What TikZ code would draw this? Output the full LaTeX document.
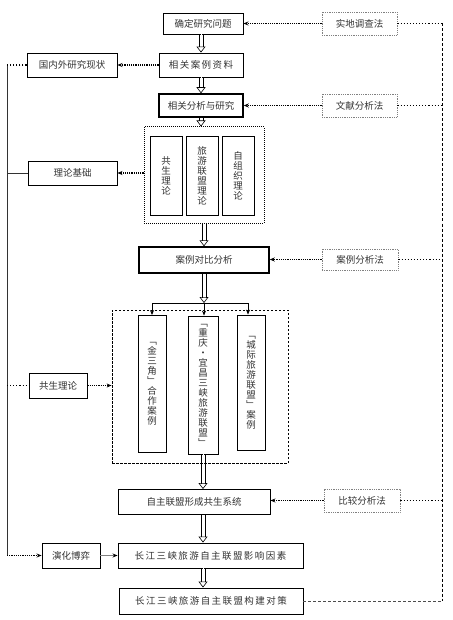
\documentclass[tikz,border=0pt]{standalone}
\usepackage{fontspec}
\setmainfont{Noto Sans CJK SC}
\newfontfamily\widecjk[LetterSpace=15]{Noto Sans CJK SC}
\usetikzlibrary{arrows.meta}

\tikzset{
  box/.style={draw, line width=0.9pt, inner sep=0pt},
  heavybox/.style={box, line width=1.5pt},
  method/.style={draw=gray, densely dotted, line width=0.8pt, inner sep=0pt},
  column/.style={box, line width=0.8pt, align=center},
  shaft/.style={line width=0.6pt, shorten >=5.5pt},
  shafttip/.style={white, line width=0.5pt, -{Triangle[open, color=black, line width=0.6pt, length=6pt, width=9pt]}},
  toward/.style={densely dotted, line width=1.2pt, -{Stealth[length=5pt, width=4pt]}},
  dotlink/.style={dotted, line width=1.1pt},
  rightrail/.style={dash pattern=on 3pt off 2pt, line width=0.6pt},
  leftrail/.style={line width=0.7pt, black!80}
}
\newcommand\hollowto[2]{%
  \draw[shaft, transform canvas={xshift=-1.9pt}] #1 -- #2;
  \draw[shaft, transform canvas={xshift=1.9pt}] #1 -- #2;
  \draw[shafttip] #1 -- #2;}

\begin{document}
\begin{tikzpicture}[x=1pt, y=-1pt, font=\fontsize{9.5}{10}\selectfont, text=black!80]
  \useasboundingbox (0,0) rectangle (452,620);

  % main flow
  \node[box, minimum width=80pt, minimum height=21pt] (q) at (203,23.5) {确定研究问题};
  \node[box, minimum width=84pt, minimum height=24pt, font=\widecjk\fontsize{9.5}{10}\selectfont] (mat) at (201,65) {相关案例资料};
  \node[heavybox, minimum width=84pt, minimum height=23pt] (ana) at (201,105.5) {相关分析与研究};

  \node[draw, densely dotted, line width=1pt, minimum width=120pt, minimum height=96pt] (g1) at (204,175) {};
  \node[column, minimum width=32pt, minimum height=79pt] (t1) at (166,175.5) {共\\生\\理\\论};
  \node[column, minimum width=32pt, minimum height=79pt] (t2) at (202,175.5) {旅\\游\\联\\盟\\理\\论};
  \node[column, minimum width=32pt, minimum height=79pt] (t3) at (238,175.5) {自\\组\\织\\理\\论};

  \node[heavybox, minimum width=130pt, minimum height=26pt] (cmp) at (204,260) {案例对比分析};
  \coordinate (split) at (204,303);
  \coordinate (sl) at (152,303);
  \coordinate (sr) at (248,303);

  \node[draw, dash pattern=on 2.5pt off 1.5pt, line width=0.8pt, minimum width=176pt, minimum height=153pt] (g2) at (200,386.5) {};
  \node[column, minimum width=28pt, minimum height=137pt] (c1) at (152,384) {﹁\\金\\三\\角\\﹂\\合\\作\\案\\例};
  \node[column, minimum width=30pt, minimum height=138pt] (c2) at (203,385) {﹁\\重\\庆\\·\\宜\\昌\\三\\峡\\旅\\游\\联\\盟\\﹂};
  \node[column, minimum width=28pt, minimum height=135pt] (c3) at (251,382.5) {﹁\\城\\际\\旅\\游\\联\\盟\\﹂\\案\\例};

  \node[box, minimum width=152pt, minimum height=25pt] (sys) at (194,502) {自主联盟形成共生系统};
  \node[box, minimum width=185pt, minimum height=25pt, font=\widecjk\fontsize{9.5}{10}\selectfont] (fac) at (210.5,555.5) {长江三峡旅游自主联盟影响因素};
  \node[box, minimum width=184pt, minimum height=26pt, font=\widecjk\fontsize{9.5}{10}\selectfont] (str) at (211,601) {长江三峡旅游自主联盟构建对策};

  % left side
  \node[box, minimum width=90pt, minimum height=24pt] (dom) at (72,65) {国内外研究现状};
  \node[box, minimum width=89pt, minimum height=24pt] (base) at (72.5,173) {理论基础};
  \node[box, minimum width=58pt, minimum height=25pt] (sym) at (58,385.5) {共生理论};
  \node[box, minimum width=58pt, minimum height=25pt] (evo) at (71,555.5) {演化博弈};

  % methods
  \node[method, minimum width=75pt, minimum height=23pt] (fld) at (359.5,23.5) {实地调查法};
  \node[method, minimum width=75pt, minimum height=23pt] (lit) at (359.5,105.5) {文献分析法};
  \node[method, minimum width=76pt, minimum height=21pt] (cse) at (360,259.5) {案例分析法};
  \node[method, minimum width=76pt, minimum height=23pt] (cmpm) at (362,500.5) {比较分析法};

  \coordinate (rt) at (442,23.5);
  \coordinate (rb) at (442,601);
  \coordinate (lt) at (7,65);
  \coordinate (lb) at (7,555.5);

  % hollow arrows
  \hollowto{(q.south -| mat.north)}{(mat.north)}
  \hollowto{(mat.south)}{(ana.north)}
  \hollowto{(ana.south)}{(ana.south |- g1.north)}
  \hollowto{(g1.south)}{(cmp.north)}
  \hollowto{(cmp.south)}{(split)}
  \hollowto{(c2.south)}{(c2.south |- sys.north)}
  \hollowto{(c2.south |- sys.south)}{(c2.south |- fac.north)}
  \hollowto{(c2.south |- fac.south)}{(c2.south |- str.north)}

  \draw[line width=0.7pt] (sl) -- (sr);
  \draw[line width=0.7pt, -{Stealth[length=5pt, width=4pt]}] (sl) -- (c1.north);
  \draw[line width=0.7pt, -{Stealth[length=5pt, width=4pt]}] (split) -- (split |- c2.north);
  \draw[line width=0.7pt, -{Stealth[length=5pt, width=4pt]}] (sr) -- (sr |- c3.north);

  % methods to flow
  \draw[toward] (fld.west) -- (q.east);
  \draw[toward] (lit.west) -- (ana.east);
  \draw[toward] (cse.west) -- (cse.west -| cmp.east);
  \draw[toward] (cmpm.west) -- (cmpm.west -| sys.east);

  \draw[rightrail] (rt) -- (rb);
  \draw[dotlink] (fld.east) -- (rt);
  \draw[dotlink] (lit.east) -- (lit.east -| rt);
  \draw[dotlink] (cse.east) -- (cse.east -| rt);
  \draw[dotlink] (cmpm.east) -- (cmpm.east -| rt);
  \draw[rightrail, black!70] (str.east) -- (str.east -| rb);

  % left rail
  \draw[leftrail] (lt) -- (lb);
  \draw[toward] (mat.west) -- (dom.east);
  \draw[dotlink] (dom.west) -- (lt);
  \draw[leftrail] (base.west) -- (base.west -| lt);
  \draw[toward] (g1.west |- base) -- (base.east);
  \draw[dotlink] (sym.west -| lt) -- (sym.west);
  \draw[toward] (sym.east) -- (sym.east -| g2.west);
  \draw[toward] (lb) -- (evo.west);
  \draw[line width=0.8pt, gray, -{Stealth[black, length=5pt, width=4pt]}] (evo.east) -- (fac.west);
\end{tikzpicture}
\end{document}
